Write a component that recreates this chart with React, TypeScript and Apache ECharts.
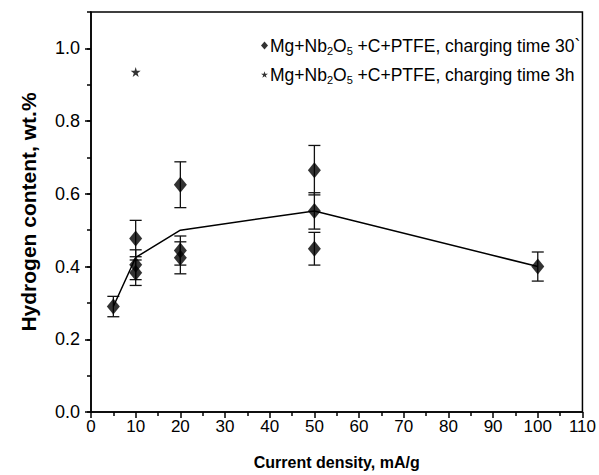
import React, { useEffect, useRef } from "react";
import * as echarts from "echarts";

const xTicks = [0, 10, 20, 30, 40, 50, 60, 70, 80, 90, 100, 110];
const fitX = [5, 10, 20, 50, 100];
const fitY = [0.29, 0.425, 0.5, 0.553, 0.4];
const ptsX = [5, 10, 10, 10, 20, 20, 20, 50, 50, 50, 100];
const ptsY = [0.29, 0.477, 0.405, 0.383, 0.625, 0.444, 0.424, 0.665, 0.553, 0.449, 0.4];
const ptsErr = [0.028, 0.05, 0.041, 0.035, 0.063, 0.04, 0.044, 0.068, 0.05, 0.045, 0.04];
const starX = [10];
const starY = [0.935];

const name30 = "30min";
const name3h = "3h";
const starPath =
  "path://M50,0 L61,35 L98,35 L68,57 L79,91 L50,70 L21,91 L32,57 L2,35 L39,35 Z";
const FONT = "Liberation Sans, Arial, sans-serif";

export default function App() {
  const ref = useRef<HTMLDivElement>(null);
  useEffect(() => {
    const chart = echarts.init(ref.current!, null, { renderer: "svg" });
    const errData = ptsX.map((x, i) => [x, ptsY[i], ptsY[i] - ptsErr[i], ptsY[i] + ptsErr[i]]);
    const legendText = (tail: string) =>
      `{n|Mg+Nb}{s|2}{n|O}{s|5}{n| +C+PTFE, charging time ${tail}}`;
    chart.setOption({
      animation: false,
      backgroundColor: "#fff",
      grid: {
        left: 91,
        right: 16,
        top: 12,
        bottom: 62,
        show: true,
        borderColor: "#000",
        borderWidth: 1.5,
      },
      legend: {
        orient: "vertical",
        left: 256,
        top: 30,
        itemWidth: 7,
        itemHeight: 8,
        itemGap: 8,
        data: [
          { name: name30, icon: "diamond" },
          { name: name3h, icon: starPath },
        ],
        formatter: (n: string) => legendText(n === name30 ? "30`" : "3h"),
        textStyle: {
          color: "#000",
          fontFamily: FONT,
          fontSize: 17.5,
          padding: [0, 0, 0, -3],
          rich: {
            n: { fontFamily: FONT, fontSize: 17.5, color: "#000", lineHeight: 20 },
            s: { fontFamily: FONT, fontSize: 11, color: "#000", lineHeight: 20, padding: [10, 0, 0, 0] },
          },
        },
      },
      xAxis: {
        type: "value",
        min: xTicks[0],
        max: xTicks[xTicks.length - 1],
        interval: 10,
        name: "Current density, mA/g",
        nameLocation: "middle",
        nameGap: 42,
        nameTextStyle: { fontFamily: FONT, fontSize: 16, fontWeight: "bold", color: "#000" },
        axisLine: { lineStyle: { color: "#000", width: 1.5 } },
        axisTick: { show: true, inside: false, length: 6, lineStyle: { color: "#000", width: 1.5 } },
        minorTick: { show: true, splitNumber: 2, length: 4, lineStyle: { color: "#000", width: 1.5 } },
        axisLabel: { fontFamily: FONT, fontSize: 17, color: "#000", margin: 6 },
        splitLine: { show: false },
      },
      yAxis: [
        {
          type: "value",
          min: 0,
          max: 1.1,
          interval: 0.2,
          name: "Hydrogen content, wt.%",
          nameLocation: "middle",
          nameGap: 52,
          nameTextStyle: { fontFamily: FONT, fontSize: 21, fontWeight: "bold", color: "#000" },
          axisLine: { lineStyle: { color: "#000", width: 1.5 } },
          axisTick: { show: true, inside: false, length: 6, lineStyle: { color: "#000", width: 1.5 } },
          axisLabel: {
            fontFamily: FONT,
            fontSize: 18,
            color: "#000",
            margin: 11,
            showMaxLabel: false,
            formatter: (v: number) => v.toFixed(1),
          },
          splitLine: { show: false },
        },
        {
          type: "value",
          min: 0,
          max: 1.1,
          interval: 0.1,
          position: "left",
          axisLine: { show: false },
          axisTick: { show: true, inside: false, length: 4, lineStyle: { color: "#000", width: 1.5 } },
          axisLabel: { show: false },
          splitLine: { show: false },
        },
      ],
      series: [
        {
          type: "line",
          data: fitX.map((x, i) => [x, fitY[i]]),
          symbol: "none",
          lineStyle: { color: "#000", width: 1.5 },
          silent: true,
          legendHoverLink: false,
        },
        {
          type: "custom",
          data: errData,
          renderItem: (params: any, api: any) => {
            const x = api.value(0);
            const lo = api.coord([x, api.value(2)]);
            const hi = api.coord([x, api.value(3)]);
            const w = 6;
            const style = { stroke: "#111", lineWidth: 1.3 };
            return {
              type: "group",
              children: [
                { type: "line", shape: { x1: lo[0], y1: lo[1], x2: hi[0], y2: hi[1] }, style },
                { type: "line", shape: { x1: lo[0] - w, y1: lo[1], x2: lo[0] + w, y2: lo[1] }, style },
                { type: "line", shape: { x1: hi[0] - w, y1: hi[1], x2: hi[0] + w, y2: hi[1] }, style },
              ],
            };
          },
          z: 3,
        },
        {
          name: name30,
          type: "scatter",
          data: ptsX.map((x, i) => [x, ptsY[i]]),
          symbol: "diamond",
          symbolSize: [13, 16],
          itemStyle: { color: "#000" },
          z: 4,
        },
        {
          name: name3h,
          type: "scatter",
          data: starX.map((x, i) => [x, starY[i]]),
          symbol: starPath,
          symbolSize: 10,
          itemStyle: { color: "#000" },
          z: 4,
        },
      ],
    });
    return () => chart.dispose();
  }, []);
  return <div ref={ref} style={{ width: 599, height: 475, position: "absolute", left: 0, top: 0 }} />;
}
